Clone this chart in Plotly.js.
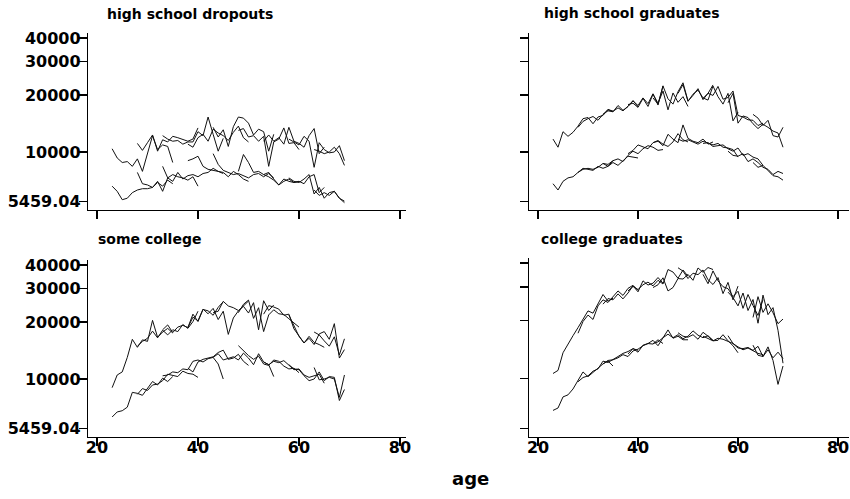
<!DOCTYPE html>
<html><head><meta charset="utf-8">
<script src="https://cdn.plot.ly/plotly-3.0.1.min.js"></script>
<style>html,body{margin:0;padding:0;background:#fff}#chart{width:850px;height:499px}</style>
</head><body><div id="chart"></div>
<script>
// cohort first observed age (each cohort followed for up to 13 years, censored at 69)
const cohortStart = [23, 28, 33, 38, 43, 48, 53, 58, 63];
const panelTitles = ["high school dropouts", "high school graduates", "some college", "college graduates"];
const yTickVals = [5459.04, 10000, 20000, 30000, 40000];
const yTickText = ["5459.04", "10000", "20000", "30000", "40000"];
const xTickVals = [20, 40, 60, 80];
const xTitle = "age";

// high school dropouts
const dropoutsUpper = [
  [10400, 9300, 8800, 8900, 8400, 9200, 7900, 9800, 12200, 10300, 10900, 10700, 8800],
  [11100, 10200, 11200, 12300, 10100, 11600, 11300, 12100, 11900, 11600, 11400, 11700, 13400],
  [12200, 11700, 11400, 11500, 11000, 11300, 11300, 12800, 12200, 15300, 12400, 10100, 11800],
  [11000, 10600, 11900, 12400, 11400, 13200, 12600, 12200, 11500, 12700, 13700, 11900, 11300],
  [13500, 12000, 13100, 10700, 13600, 15300, 15100, 14200, 12300, 13200, 12800, 10100, 12400],
  [13000, 13300, 12000, 12200, 11400, 12100, 8400, 11300, 11700, 13400, 11100, 11200, 10300],
  [11400, 12300, 11400, 11900, 11000, 13500, 11400, 11100, 10600, 12200, 13300, 9800, 10600],
  [11700, 11300, 10900, 12100, 11400, 8300, 11200, 10300, 9900, 10000, 10800, 9000],
  [10300, 10100, 9800, 10000, 10600, 9800, 8500]
];
const dropoutsLower = [
  [6600, 6200, 5600, 5700, 6100, 6300, 6400, 6400, 6500, 6900, 6600, 7100, 6800],
  [7800, 6800, 6700, 6500, 7000, 6200, 7300, 7600, 7400, 7300, 7100, 7400, 6600],
  [8400, 7300, 7000, 7800, 7200, 7500, 7600, 7400, 7700, 7800, 8200, 7900, 7700],
  [9000, 9200, 9500, 8400, 8100, 8000, 7900, 7800, 7400, 7900, 7600, 7200, 7000],
  [9800, 8600, 8000, 7800, 7600, 7700, 7500, 7300, 7600, 7700, 7400, 7700, 7300],
  [7900, 9700, 8800, 7800, 7900, 7600, 7400, 7100, 6700, 7200, 7000, 6900, 7000],
  [7600, 7800, 7200, 6700, 7000, 7200, 6900, 7000, 6800, 7400, 7600, 6100, 6500],
  [7300, 7000, 6900, 7200, 7600, 6000, 6500, 5700, 6100, 6200, 5700, 5400],
  [6300, 5900, 6100, 5900, 6200, 5700, 5500]
];
// high school graduates
const gradsUpper = [
  [11700, 10600, 12800, 12100, 12700, 13700, 15000, 15200, 14100, 15300, 15600, 16800, 16400],
  [13500, 14500, 15000, 15400, 14700, 15800, 16500, 16300, 17600, 16600, 17400, 18700, 17300],
  [15800, 16700, 16400, 17100, 16500, 17400, 18600, 17600, 19300, 18000, 20300, 17700, 22400],
  [17800, 18100, 17200, 19200, 17400, 20200, 18100, 21000, 16700, 20500, 18300, 19600, 17400],
  [19300, 17900, 22300, 19100, 17900, 20800, 23200, 18600, 19900, 21600, 18900, 20400, 22600],
  [20400, 22700, 18500, 20200, 21200, 19300, 18800, 22300, 19600, 17900, 20400, 14600, 16200],
  [19200, 20400, 19900, 22200, 19000, 19400, 21000, 15600, 15300, 14800, 14700, 13800, 14200],
  [18200, 20400, 14200, 15500, 15200, 14100, 13300, 14000, 13500, 12900, 12600, 10600],
  [15800, 15100, 13800, 14700, 12200, 12000, 13500]
];
const gradsLower = [
  [6800, 6300, 7000, 7300, 7400, 7800, 8100, 8200, 8100, 8300, 8700, 8600, 9000],
  [7800, 8200, 8100, 8000, 8400, 8200, 8400, 8800, 8500, 9000, 9500, 9400, 9300],
  [8700, 8400, 9000, 9200, 8900, 9600, 10100, 9800, 10400, 10800, 10600, 10200, 10300],
  [9800, 10200, 10900, 10600, 10400, 11200, 11500, 11000, 10700, 11300, 12500, 11600, 11300],
  [11200, 11400, 10800, 12400, 11700, 11200, 13900, 11800, 11400, 11200, 11700, 11000, 11300],
  [11700, 11400, 11600, 11300, 11000, 11400, 11200, 10900, 11100, 10600, 10500, 10300, 9400],
  [11100, 11200, 10700, 10800, 10900, 10400, 10100, 10500, 9600, 9800, 9400, 9200, 8500],
  [10100, 9600, 9500, 9800, 8900, 9200, 8800, 8300, 8100, 7600, 7900, 7700],
  [8800, 8300, 8500, 8000, 7500, 7400, 7100]
];
// some college
const someCollegeUpper = [
  [9000, 10500, 10900, 13000, 16200, 14700, 16100, 15800, 20400, 16600, 17700, 18500, 17500],
  [14900, 15800, 16400, 17900, 16500, 18100, 17100, 18200, 17800, 19400, 18500, 20100, 22800],
  [18200, 19300, 17600, 18800, 19200, 18700, 22000, 20100, 23300, 22900, 21700, 23900, 25600],
  [18700, 21200, 20300, 23400, 22100, 23600, 20600, 22800, 17200, 21000, 22900, 24400, 25800],
  [22400, 22800, 25700, 24300, 23800, 23000, 24200, 22300, 25300, 18200, 25900, 23000, 24600],
  [22400, 24800, 26100, 20900, 23800, 17800, 21800, 23200, 22100, 21900, 20800, 19700, 18800],
  [22000, 24400, 24000, 23400, 21700, 22000, 18400, 17000, 15500, 16800, 15600, 15200, 14700],
  [21800, 19000, 16800, 15500, 16400, 15200, 17300, 17800, 16200, 19600, 12900, 14300],
  [17700, 17100, 15900, 14900, 16700, 13400, 16300]
];
const someCollegeLower = [
  [6300, 6700, 6800, 7100, 8500, 8400, 8200, 8900, 9700, 9300, 10100, 9700, 10300],
  [8300, 8900, 8700, 9300, 9400, 9800, 10600, 10400, 10300, 11000, 10700, 10600, 10200],
  [10400, 10500, 10900, 10800, 11300, 11200, 12400, 12600, 12300, 12800, 13000, 12000, 10000],
  [11400, 10900, 12300, 12700, 12900, 13100, 13800, 14200, 12700, 12900, 13500, 12400, 11800],
  [13000, 13600, 12600, 12900, 13100, 12600, 13700, 12900, 11900, 13600, 12300, 11900, 10300],
  [15000, 14100, 13300, 12700, 13200, 12000, 11800, 12600, 12400, 11700, 11300, 11400, 10800],
  [12300, 11900, 12400, 12200, 12500, 11800, 11200, 11300, 10500, 10200, 10400, 10600, 9500],
  [11900, 11300, 11200, 10400, 9800, 10000, 10900, 9800, 10300, 10200, 7700, 8800],
  [11500, 9900, 10000, 10200, 10000, 8000, 10500]
];
// college graduates
const collegeGradsUpper = [
  [10600, 11000, 13600, 15200, 16700, 18400, 20300, 22500, 21900, 24300, 27400, 25300, 26200],
  [17200, 19800, 21400, 20300, 23900, 25700, 24900, 26800, 28600, 27100, 29500, 30600, 28800],
  [24400, 26100, 25700, 27600, 26000, 27900, 30400, 28300, 32300, 30700, 31400, 33600, 31400],
  [28600, 30200, 29100, 30800, 31800, 30400, 32500, 31100, 37000, 35900, 33300, 36800, 34100],
  [29800, 30800, 33500, 28600, 29800, 33200, 33000, 34900, 32500, 37700, 35800, 37900, 37000],
  [37800, 36300, 33200, 35400, 34800, 36800, 32700, 30900, 33600, 27700, 31700, 25700, 30300],
  [34900, 31200, 36400, 32300, 30100, 29400, 26700, 28500, 23200, 27400, 24000, 21300, 25800],
  [28200, 26400, 23900, 27900, 22600, 25800, 19400, 27200, 21500, 23400, 17800, 12000],
  [20800, 26700, 22100, 24500, 22000, 19300, 20400]
];
const collegeGradsLower = [
  [6800, 7000, 8000, 8200, 8800, 9700, 10800, 10200, 10700, 11300, 11900, 12300, 11600],
  [9600, 10100, 10300, 10900, 11200, 12300, 12100, 12600, 13000, 13500, 13800, 14300, 14000],
  [11900, 12400, 12500, 12800, 13300, 13000, 13900, 14200, 14800, 15200, 15100, 15900, 15200],
  [13400, 14300, 13700, 14900, 15200, 15800, 14800, 16200, 17900, 16200, 16600, 15900, 15900],
  [15200, 15500, 16300, 17000, 16300, 16900, 16100, 16600, 17700, 16800, 16300, 16700, 15800],
  [17300, 16600, 16400, 16900, 16000, 17400, 16600, 15700, 15800, 16900, 15700, 14800, 13600],
  [16600, 16100, 15700, 16200, 16000, 15600, 15200, 14600, 14100, 14400, 14000, 13500, 13300],
  [16700, 15200, 14400, 14300, 14500, 14000, 14700, 13000, 14100, 12800, 13700, 12700],
  [14900, 13200, 13000, 14600, 12400, 9300, 11600]
];

const panels = [
  [dropoutsUpper, dropoutsLower],
  [gradsUpper, gradsLower],
  [someCollegeUpper, someCollegeLower],
  [collegeGradsUpper, collegeGradsLower]
];

const traces = [];
panels.forEach((groups, p) => {
  const suffix = p === 0 ? '' : String(p + 1);
  groups.forEach(group => {
    group.forEach((vals, c) => {
      traces.push({
        type: 'scatter', mode: 'lines',
        x: vals.map((_, j) => cohortStart[c] + j),
        y: vals,
        xaxis: 'x' + suffix, yaxis: 'y' + suffix,
        line: {color: '#111', width: 1},
        hoverinfo: 'skip', showlegend: false
      });
    });
  });
});

const W = 850, H = 499;
const TICKFONT = {family: 'DejaVu Sans, sans-serif', size: 16, color: '#000', weight: 'bold'};
const yRange = [Math.log10(4940), Math.log10(42500)];

function xAxis(px0, px1, range, labels, anchor) {
  return {
    domain: [px0 / W, px1 / W], range: range, anchor: anchor,
    showline: true, linecolor: '#000', linewidth: 1.2, mirror: false,
    ticks: 'outside', ticklen: 8, tickwidth: 1.2, tickcolor: '#000',
    tickmode: 'array', tickvals: xTickVals, ticktext: xTickVals.map(String),
    showticklabels: labels, tickfont: TICKFONT, ticklabelstandoff: -12,
    ticklabeloverflow: 'allow',
    showgrid: false, zeroline: false, fixedrange: true
  };
}
function yAxis(top, bottom, labels, anchor) {
  return {
    domain: [1 - bottom / H, 1 - top / H], type: 'log', range: yRange, anchor: anchor,
    showline: true, linecolor: '#000', linewidth: 1.2,
    ticks: 'outside', ticklen: 8, tickwidth: 1.2, tickcolor: '#000',
    tickmode: 'array', tickvals: yTickVals, ticktext: yTickText,
    showticklabels: labels, tickfont: TICKFONT, ticklabelstandoff: -5,
    ticklabeloverflow: 'allow',
    showgrid: false, zeroline: false, fixedrange: true
  };
}

const TITLEFONT = {family: 'DejaVu Sans, sans-serif', size: 14, color: '#000', weight: 'bold'};
const titlePos = [[105, 14], [542, 13], [96, 239], [539, 239]];
const annotations = panelTitles.map((t, i) => ({
  text: t, xref: 'paper', yref: 'paper',
  x: titlePos[i][0] / W, y: 1 - titlePos[i][1] / H,
  xanchor: 'left', yanchor: 'middle', showarrow: false, font: TITLEFONT
}));
annotations.push({
  text: xTitle, xref: 'paper', yref: 'paper', x: 470 / W, y: 1 - 478 / H,
  xanchor: 'center', yanchor: 'middle', showarrow: false,
  font: {family: 'DejaVu Sans, sans-serif', size: 18, color: '#000', weight: 'bold'}
});

const leftRange = [18.22, 81.19];
const rightRange = [18.2, 82.2];
const layout = {
  width: W, height: H, margin: {l: 0, r: 0, t: 0, b: 0},
  paper_bgcolor: '#fff', plot_bgcolor: '#fff', showlegend: false,
  xaxis: xAxis(88, 406, leftRange, false, 'y'),
  yaxis: yAxis(33, 210, true, 'x'),
  xaxis2: xAxis(529, 849, rightRange, false, 'y2'),
  yaxis2: yAxis(33, 210, false, 'x2'),
  xaxis3: xAxis(88, 406, leftRange, true, 'y3'),
  yaxis3: yAxis(260, 437, true, 'x3'),
  xaxis4: xAxis(529, 849, rightRange, true, 'y4'),
  yaxis4: yAxis(258, 437, false, 'x4'),
  annotations: annotations
};

Plotly.newPlot('chart', traces, layout, {staticPlot: true, displayModeBar: false});
</script>
</body></html>
